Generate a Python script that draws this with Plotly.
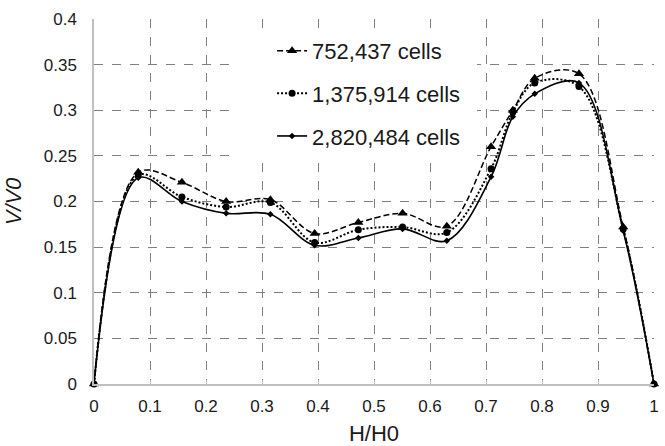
import plotly.graph_objects as go

h_ratio = [0, 0.079, 0.157, 0.236, 0.315, 0.394, 0.472, 0.551, 0.630, 0.709, 0.748, 0.787, 0.866, 0.945, 1.0]

v_752k = [0, 0.232, 0.221, 0.200, 0.202, 0.165, 0.177, 0.187, 0.173, 0.260, 0.300, 0.335, 0.340, 0.172, 0]
v_1376k = [0, 0.229, 0.205, 0.194, 0.199, 0.155, 0.169, 0.172, 0.166, 0.236, 0.298, 0.330, 0.326, 0.170, 0]
v_2820k = [0, 0.226, 0.200, 0.187, 0.186, 0.152, 0.160, 0.170, 0.157, 0.227, 0.293, 0.318, 0.330, 0.168, 0]

names = ["752,437 cells", "1,375,914 cells", "2,820,484 cells"]
x_ticks = [0, 0.1, 0.2, 0.3, 0.4, 0.5, 0.6, 0.7, 0.8, 0.9, 1]
x_tick_text = ["0", "0.1", "0.2", "0.3", "0.4", "0.5", "0.6", "0.7", "0.8", "0.9", "1"]
y_ticks = [0, 0.05, 0.1, 0.15, 0.2, 0.25, 0.3, 0.35, 0.4]
y_tick_text = ["0", "0.05", "0.1", "0.15", "0.2", "0.25", "0.3", "0.35", "0.4"]

FONT = "Liberation Sans, Arial, sans-serif"

fig = go.Figure()
styles = [
    dict(dash="6px,3px", width=1.5, symbol="triangle-up", size=9),
    dict(dash="2px,2px", width=2, symbol="circle", size=7),
    dict(dash="solid", width=1.6, symbol="diamond", size=5),
]
for i, (name, ys, st) in enumerate(zip(names, [v_752k, v_1376k, v_2820k], styles)):
    fig.add_trace(go.Scatter(
        x=h_ratio, y=ys, name=name, mode="lines+markers",
        line=dict(color="black", width=st["width"], dash=st["dash"], shape="spline", smoothing=1.0),
        marker=dict(symbol=st["symbol"], size=st["size"], color="black"),
        legendgroup=f"g{i}", cliponaxis=False,
    ))

fig.add_shape(type="rect", xref="x", yref="y", x0=0.246, x1=0.684, y0=0.249, y1=0.388,
              fillcolor="white", line=dict(width=0), layer="between")

fig.update_layout(
    width=665, height=446,
    margin=dict(l=94, r=11, t=19, b=62),
    paper_bgcolor="white", plot_bgcolor="white",
    font=dict(family=FONT, color="#1a1a1a"),
    showlegend=True,
    legend=dict(x=0.318, y=0.97, xanchor="left", yanchor="top",
                bgcolor="rgba(0,0,0,0)", font=dict(size=22, color="#1a1a1a", family=FONT),
                tracegroupgap=11),
    xaxis=dict(range=[0, 1], tickvals=x_ticks, ticktext=x_tick_text,
               showgrid=True, gridcolor="#808080", griddash="dash", gridwidth=1,
               showline=True, linecolor="#bfbfbf", linewidth=1.5, zeroline=False,
               ticks="inside", ticklen=4, tickcolor="#bfbfbf", ticklabelstandoff=6,
               tickfont=dict(size=17), automargin=False,
               title=dict(text="H/H0", font=dict(size=22), standoff=17)),
    yaxis=dict(range=[0, 0.4], tickvals=y_ticks, ticktext=y_tick_text,
               showgrid=True, gridcolor="#808080", griddash="dash", gridwidth=1,
               showline=True, linecolor="#bfbfbf", linewidth=1.5, zeroline=False,
               ticks="", ticklabelstandoff=12,
               tickfont=dict(size=17), automargin=False,
               title=dict(text="<i>V/V0</i>", font=dict(size=22), standoff=16)),
)

fig.write_html("out.html", config={"displayModeBar": False},
               post_script="document.body.style.margin='0';document.body.style.overflow='hidden';")
